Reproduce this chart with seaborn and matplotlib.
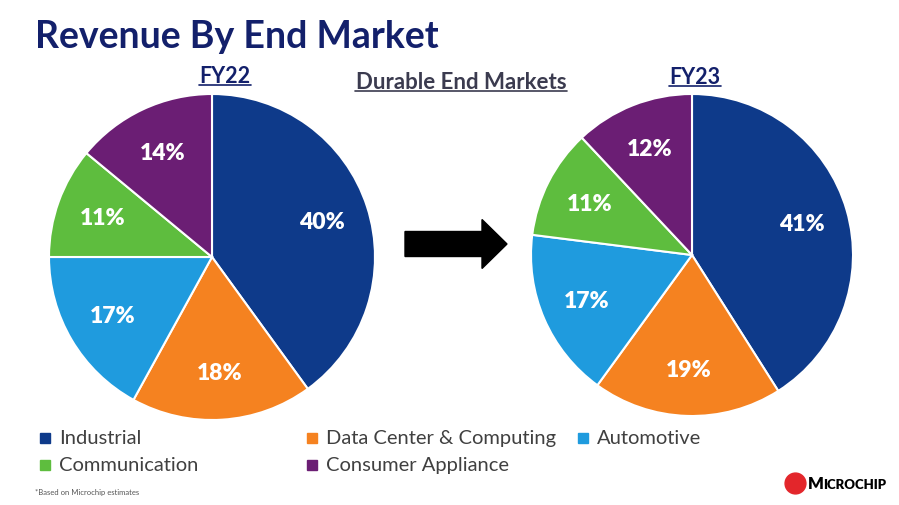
import matplotlib
matplotlib.use("Agg")
import matplotlib.pyplot as plt
from matplotlib.patches import Rectangle, FancyArrow
import seaborn as sns

# data
segments = ["Industrial", "Data Center & Computing", "Automotive", "Communication", "Consumer Appliance"]
fy22 = [40, 18, 17, 11, 14]
fy23 = [41, 19, 17, 11, 12]
colors = ["#0E3A8A", "#F58220", "#1F9BDE", "#5EBD3E", "#6B1E74"]

sns.set_theme(style="white")
plt.rcParams['font.family'] = ['Lato', 'DejaVu Sans']

W, H = 899, 506
fig = plt.figure(figsize=(W / 100, H / 100), dpi=100)


def fx(px):
    return px / W


def fy(py):
    return 1 - py / H


def draw_pie(cx, cy, r, values):
    ax = fig.add_axes([fx(cx - r), fy(cy + r), 2 * r / W, 2 * r / H])
    ax.pie(values, colors=colors, startangle=90, counterclock=False,
           autopct=lambda p: f"{p:.0f}%", pctdistance=0.71,
           wedgeprops=dict(edgecolor="white", linewidth=1.5),
           textprops=dict(color="white", fontsize=16.5, fontweight="heavy"))
    ax.set_xlim(-1, 1)
    ax.set_ylim(-1, 1)
    ax.set_aspect("equal")
    ax.axis("off")
    return ax


draw_pie(212, 258, 163, fy22)
draw_pie(692, 256, 161, fy23)

navy = "#13206B"
fig.text(fx(35), fy(37), "Revenue By End Market", fontsize=27, fontweight="bold",
         color=navy, ha="left", va="center")
fig.text(fx(225), fy(83), "FY22", fontsize=15.5, fontweight="bold", color=navy,
         ha="center", va="baseline")
fig.text(fx(695), fy(84), "FY23", fontsize=15.5, fontweight="bold", color=navy,
         ha="center", va="baseline")
fig.text(fx(461), fy(89), "Durable End Markets", fontsize=16, fontweight="bold",
         color="#3B3B4F", ha="center", va="baseline")
# underlines
for x0, x1, y, c in [(199, 251, 86, navy), (669, 721, 87, navy), (355, 567, 92, "#3B3B4F")]:
    fig.add_artist(plt.Line2D([fx(x0), fx(x1)], [fy(y), fy(y)], color=c, lw=1.2))

# arrow
fig.add_artist(FancyArrow(fx(405), fy(245), fx(507) - fx(405), 0, width=25 / H,
                          head_width=49 / H, head_length=25 / W,
                          length_includes_head=True, color="black",
                          transform=fig.transFigure))

# legend
leg_pos = [(45, 439), (312, 439), (583, 439), (45, 466), (312, 466)]
for (lx, ly), name, c in zip(leg_pos, segments, colors):
    fig.add_artist(Rectangle((fx(lx - 5), fy(ly + 5)), 10 / W, 10 / H, color=c,
                             transform=fig.transFigure))
    fig.text(fx(lx + 14), fy(ly), name, fontsize=14.5, color="#404040",
             ha="left", va="center")

fig.text(fx(35), fy(493), "*Based on Microchip estimates", fontsize=5.5,
         color="#555555", ha="left", va="center")

# logo
fig.add_artist(plt.Line2D([fx(795)], [fy(484)], marker="o", markersize=15,
                          color="#E3262B", transform=fig.transFigure))
fig.text(fx(808), fy(484), "M", fontsize=12, fontweight="heavy",
         color="black", ha="left", va="center")
fig.text(fx(823), fy(485), "ICROCHIP", fontsize=9.5, fontweight="heavy",
         color="black", ha="left", va="center")

fig.savefig("out.png", dpi=100, facecolor="white")
